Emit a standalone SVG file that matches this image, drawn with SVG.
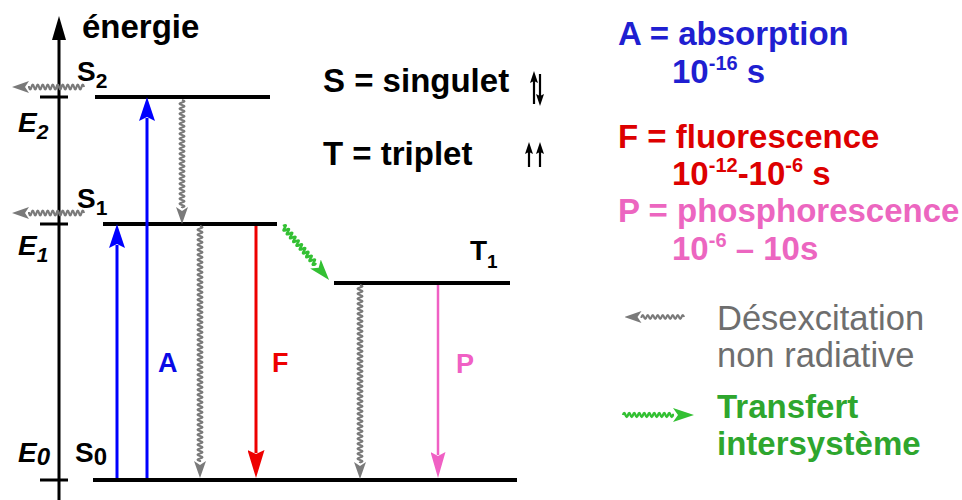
<svg xmlns="http://www.w3.org/2000/svg" width="962" height="500" viewBox="0 0 962 500">
<style>
text{font-family:"Liberation Sans",Arial,sans-serif;font-weight:bold}
.lbl{font-size:28px;fill:#000}
.it{font-style:italic}
.big{font-size:33px}
.blue{fill:#1f1fd1}
.red{fill:#dd0000}
.pink{fill:#ec66c0}
.gray{fill:#6e6e6e;font-weight:normal}
.green{fill:#2ea62e}
.lvl{stroke:#000;stroke-width:4;fill:none}
.ax{stroke:#000;stroke-width:3;fill:none}
.wg{stroke:#7a7a7a;stroke-width:2.2;fill:none}
.wgr{stroke:#33c033;stroke-width:2.5;fill:none}
.spin{stroke:#000;stroke-width:2.2;fill:none}
</style>
<defs>
<marker id="mGray" markerUnits="userSpaceOnUse" markerWidth="17" markerHeight="12" viewBox="0 0 17 12" refX="1" refY="6" orient="auto"><path d="M0,0 L17,6 L0,12 L4,6 z" fill="#7a7a7a"/></marker>
<marker id="mGreen" markerUnits="userSpaceOnUse" markerWidth="21" markerHeight="14" viewBox="0 0 21 14" refX="1" refY="7" orient="auto"><path d="M0,0 L21,7 L0,14 L5,7 z" fill="#33c033"/></marker>
<marker id="mBlue" markerUnits="userSpaceOnUse" markerWidth="24" markerHeight="16" viewBox="0 0 24 16" refX="3" refY="8" orient="auto"><path d="M0,0 L24,8 L0,16 L4,8 z" fill="#0000ff"/></marker>
<marker id="mRed" markerUnits="userSpaceOnUse" markerWidth="28" markerHeight="17" viewBox="0 0 28 17" refX="3" refY="8.5" orient="auto"><path d="M0,0 L28,8.5 L0,17 L4,8.5 z" fill="#ee0000"/></marker>
<marker id="mPink" markerUnits="userSpaceOnUse" markerWidth="26" markerHeight="15" viewBox="0 0 26 15" refX="3" refY="7.5" orient="auto"><path d="M0,0 L26,7.5 L0,15 L4,7.5 z" fill="#f060c4"/></marker>
<marker id="mSpin" markerUnits="userSpaceOnUse" markerWidth="12" markerHeight="8" viewBox="0 0 12 8" refX="2" refY="4" orient="auto"><path d="M0,0 L12,4 L0,8 L2,4 z" fill="#000"/></marker>
</defs>
<rect width="962" height="500" fill="#fff"/>

<g id="axis">
<path class="ax" d="M59,500 L59,36"/>
<path d="M59,16 L52,40 L66,40 z" fill="#000"/>
<path class="ax" d="M40,97 L68,97 M40,224 L68,224 M40,480 L68,480"/>
<text x="82" y="38" class="big">énergie</text>
<text x="18" y="132" class="lbl it">E<tspan font-size="21" dy="7">2</tspan></text>
<text x="18" y="255" class="lbl it">E<tspan font-size="21" dy="7">1</tspan></text>
<text x="18" y="462" class="lbl it">E<tspan font-size="24" dy="3">0</tspan></text>
</g>

<g id="S2">
<path class="lvl" d="M95,97 L270,97"/>
<text x="77" y="81" class="lbl">S<tspan font-size="21" dy="7">2</tspan></text>
</g>
<g id="S1">
<path class="lvl" d="M103,224 L277,224"/>
<text x="77" y="208" class="lbl">S<tspan font-size="21" dy="7">1</tspan></text>
</g>
<g id="T1">
<path class="lvl" d="M334,283 L510,283"/>
<text x="470" y="260" class="lbl" font-size="26">T<tspan font-size="19" dy="8">1</tspan></text>
</g>
<g id="S0">
<path class="lvl" d="M93,480 L517,480"/>
<text x="75" y="462" class="lbl">S<tspan font-size="24" dy="3">0</tspan></text>
</g>

<g id="connectors">
<path stroke="#0000ff" stroke-width="3" fill="none" d="M117,478 L117,245" marker-end="url(#mBlue)"/>
<path stroke="#0000ff" stroke-width="3" fill="none" d="M147,478 L147,118" marker-end="url(#mBlue)"/>
<path stroke="#ee0000" stroke-width="3" fill="none" d="M256,226 L256,453" marker-end="url(#mRed)"/>
<path stroke="#f060c4" stroke-width="2.5" fill="none" d="M438,285 L438,455" marker-end="url(#mPink)"/>
<path class="wg" marker-end="url(#mGray)" d="M84,87 q-1.25,-5 -2.5,0 t-2.5,0t-2.5,0t-2.5,0t-2.5,0t-2.5,0t-2.5,0t-2.5,0t-2.5,0t-2.5,0t-2.5,0 t-2.5,0t-2.5,0t-2.5,0t-2.5,0t-2.5,0t-2.5,0t-2.5,0t-2.5,0t-2.5,0t-2.5,0 t-2.5,0 L28,87"/>
<path class="wg" marker-end="url(#mGray)" d="M84,213 q-1.25,-5 -2.5,0 t-2.5,0t-2.5,0t-2.5,0t-2.5,0t-2.5,0t-2.5,0t-2.5,0t-2.5,0t-2.5,0t-2.5,0 t-2.5,0t-2.5,0t-2.5,0t-2.5,0t-2.5,0t-2.5,0t-2.5,0t-2.5,0t-2.5,0t-2.5,0 t-2.5,0 L28,213"/>
<path class="wg" marker-end="url(#mGray)" d="M182,100 q5,1.25 0,2.5 t0,2.5t0,2.5t0,2.5t0,2.5t0,2.5t0,2.5t0,2.5t0,2.5t0,2.5t0,2.5 t0,2.5t0,2.5t0,2.5t0,2.5t0,2.5t0,2.5t0,2.5t0,2.5t0,2.5t0,2.5 t0,2.5t0,2.5t0,2.5t0,2.5t0,2.5t0,2.5t0,2.5t0,2.5t0,2.5t0,2.5 t0,2.5t0,2.5t0,2.5t0,2.5t0,2.5t0,2.5t0,2.5t0,2.5t0,2.5t0,2.5 t0,2.5t0,2.5 L182,208"/>
<path class="wg" marker-end="url(#mGray)" d="M200,226 q5,1.25 0,2.5 t0,2.5t0,2.5t0,2.5t0,2.5t0,2.5t0,2.5t0,2.5t0,2.5t0,2.5t0,2.5 t0,2.5t0,2.5t0,2.5t0,2.5t0,2.5t0,2.5t0,2.5t0,2.5t0,2.5t0,2.5 t0,2.5t0,2.5t0,2.5t0,2.5t0,2.5t0,2.5t0,2.5t0,2.5t0,2.5t0,2.5 t0,2.5t0,2.5t0,2.5t0,2.5t0,2.5t0,2.5t0,2.5t0,2.5t0,2.5t0,2.5 t0,2.5t0,2.5t0,2.5t0,2.5t0,2.5t0,2.5t0,2.5t0,2.5t0,2.5t0,2.5 t0,2.5t0,2.5t0,2.5t0,2.5t0,2.5t0,2.5t0,2.5t0,2.5t0,2.5t0,2.5 t0,2.5t0,2.5t0,2.5t0,2.5t0,2.5t0,2.5t0,2.5t0,2.5t0,2.5t0,2.5 t0,2.5t0,2.5t0,2.5t0,2.5t0,2.5t0,2.5t0,2.5t0,2.5t0,2.5t0,2.5 t0,2.5t0,2.5t0,2.5t0,2.5t0,2.5t0,2.5t0,2.5t0,2.5t0,2.5t0,2.5 t0,2.5t0,2.5t0,2.5 L200,462"/>
<path class="wg" marker-end="url(#mGray)" d="M360,285 q5,1.25 0,2.5 t0,2.5t0,2.5t0,2.5t0,2.5t0,2.5t0,2.5t0,2.5t0,2.5t0,2.5t0,2.5 t0,2.5t0,2.5t0,2.5t0,2.5t0,2.5t0,2.5t0,2.5t0,2.5t0,2.5t0,2.5 t0,2.5t0,2.5t0,2.5t0,2.5t0,2.5t0,2.5t0,2.5t0,2.5t0,2.5t0,2.5 t0,2.5t0,2.5t0,2.5t0,2.5t0,2.5t0,2.5t0,2.5t0,2.5t0,2.5t0,2.5 t0,2.5t0,2.5t0,2.5t0,2.5t0,2.5t0,2.5t0,2.5t0,2.5t0,2.5t0,2.5 t0,2.5t0,2.5t0,2.5t0,2.5t0,2.5t0,2.5t0,2.5t0,2.5t0,2.5t0,2.5 t0,2.5t0,2.5t0,2.5t0,2.5t0,2.5t0,2.5t0,2.5t0,2.5t0,2.5t0,2.5 L360,463"/>
<path class="wgr" marker-end="url(#mGreen)" transform="translate(283,226) rotate(49.5)" d="M0,0 q1.25,-5 2.5,0 t2.5,0t2.5,0t2.5,0t2.5,0t2.5,0t2.5,0t2.5,0t2.5,0t2.5,0t2.5,0 t2.5,0t2.5,0t2.5,0t2.5,0t2.5,0t2.5,0t2.5,0t2.5,0t2.5,0 L51,0"/>
</g>

<g id="spin-legend">
<text x="323" y="92" class="big">S = singulet</text>
<text x="323" y="165" class="big">T = triplet</text>
<path class="spin" marker-end="url(#mSpin)" d="M534,104 L534,81"/>
<path class="spin" marker-end="url(#mSpin)" d="M540,74 L540,96"/>
<path class="spin" marker-end="url(#mSpin)" d="M529,167 L529,152"/>
<path class="spin" marker-end="url(#mSpin)" d="M540,167 L540,152"/>
</g>

<g id="labels">
<text x="158" y="372" font-size="27" fill="#0a0ae6">A</text>
<text x="272" y="372" font-size="27" fill="#ee0000">F</text>
<text x="456" y="373" font-size="27" fill="#f060c4">P</text>
</g>

<g id="legend">
<text x="618" y="45" class="big blue">A = absorption</text>
<text x="672" y="83" class="big blue">10<tspan font-size="20" dy="-13">-16</tspan><tspan dy="13"> s</tspan></text>
<text x="618" y="148" class="big red">F = fluorescence</text>
<text x="672" y="185" class="big red">10<tspan font-size="20" dy="-13">-12</tspan><tspan dy="13">-10</tspan><tspan font-size="20" dy="-13">-6</tspan><tspan dy="13"> s</tspan></text>
<text x="618" y="222" class="big pink">P = phosphorescence</text>
<text x="672" y="260" class="big pink">10<tspan font-size="20" dy="-13">-6</tspan><tspan dy="13"> – 10s</tspan></text>
<path class="wg" marker-end="url(#mGray)" d="M684,317 q-1.25,-4 -2.5,0 t-2.5,0t-2.5,0t-2.5,0t-2.5,0t-2.5,0t-2.5,0t-2.5,0t-2.5,0t-2.5,0t-2.5,0 t-2.5,0t-2.5,0t-2.5,0t-2.5,0t-2.5,0t-2.5,0 L640.5,317"/>
<text x="717" y="330" font-size="34.5" class="gray">Désexcitation</text>
<text x="717" y="367" font-size="34.5" class="gray">non radiative</text>
<path class="wgr" marker-end="url(#mGreen)" d="M623,415 q1.25,-4 2.5,0 t2.5,0t2.5,0t2.5,0t2.5,0t2.5,0t2.5,0t2.5,0t2.5,0t2.5,0t2.5,0 t2.5,0t2.5,0t2.5,0t2.5,0t2.5,0t2.5,0t2.5,0t2.5,0t2.5,0 L674,415"/>
<text x="717" y="418" class="big green">Transfert</text>
<text x="717" y="455" class="big green">intersystème</text>
</g>
</svg>
